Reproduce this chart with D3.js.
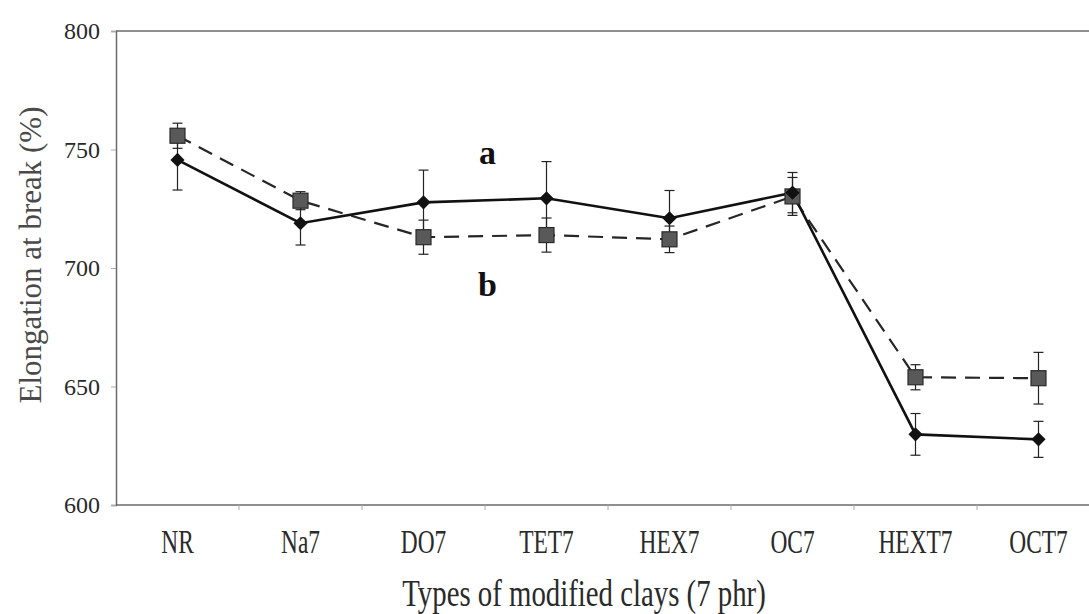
<!DOCTYPE html>
<html>
<head>
<meta charset="utf-8">
<script src="https://cdn.jsdelivr.net/npm/d3@7"></script>
<style>
  html, body { margin: 0; padding: 0; background: #fff; }
  svg { display: block; }
  text { font-family: "Liberation Serif", "Times New Roman", serif; }
</style>
</head>
<body>
<svg id="chart" width="1089" height="614"></svg>
<script>
// Elongation at break of NR composites with 7 phr of each modified clay
const categories = ["NR", "Na7", "DO7", "TET7", "HEX7", "OC7", "HEXT7", "OCT7"];

// series a: solid line, diamond markers
const seriesA = [745.6, 718.9, 727.7, 729.4, 721.0, 731.8, 629.8, 627.7];
const errorsA = [12.7, 9.2, 13.6, 15.5, 11.7, 8.5, 8.8, 7.6];

// series b: dashed line, square markers
const seriesB = [755.8, 728.4, 713.0, 713.9, 712.1, 730.2, 653.9, 653.5];
const errorsB = [5.3, 3.8, 7.2, 7.2, 5.6, 8.0, 5.3, 10.9];

const yTicks = [600, 650, 700, 750, 800];
const seriesLabels = [
  { text: "a", value: 744 },
  { text: "b", value: 688 }
];
const labelCategory = "DO7";

const svg = d3.select("#chart");
const plot = { left: 116, right: 1100, top: 31, bottom: 505 };

const x = d3.scaleBand().domain(categories).range([plot.left, plot.right]);
const y = d3.scaleLinear().domain([600, 800]).range([plot.bottom, plot.top]);
const cx = c => x(c) + x.bandwidth() / 2;

const axisColor = "#6a6a6a";
const textColor = "#2a2a2a";

// frame
svg.append("line")
  .attr("x1", plot.left).attr("x2", plot.right)
  .attr("y1", plot.top).attr("y2", plot.top)
  .attr("stroke", axisColor).attr("stroke-width", 1.5);

// y axis
const yAxis = svg.append("g")
  .attr("transform", `translate(${plot.left},0)`)
  .call(d3.axisLeft(y).tickValues(yTicks).tickSize(5).tickPadding(11).tickFormat(d3.format("d")));
yAxis.select(".domain").attr("stroke", axisColor).attr("stroke-width", 1.5);
yAxis.selectAll(".tick line").attr("stroke", "#aaa");
yAxis.selectAll(".tick text")
  .attr("fill", textColor).attr("font-size", 24)
  .attr("font-family", "Liberation Serif, serif");

// x axis: ticks at category boundaries
const xAxis = svg.append("g")
  .attr("transform", `translate(0,${plot.bottom})`);
xAxis.append("line")
  .attr("x1", plot.left).attr("x2", plot.right)
  .attr("stroke", axisColor).attr("stroke-width", 1.5);
xAxis.selectAll("line.tk").data(categories.slice(1))
  .join("line").attr("class", "tk")
  .attr("x1", d => x(d)).attr("x2", d => x(d))
  .attr("y1", 0).attr("y2", 5)
  .attr("stroke", "#aaa");
xAxis.selectAll("text.lbl").data(categories)
  .join("text").attr("class", "lbl")
  .attr("transform", d => `translate(${cx(d)},48) scale(0.9,1.28)`)
  .attr("text-anchor", "middle")
  .attr("fill", textColor).attr("font-size", 26)
  .text(d => d);

// axis titles
svg.append("text")
  .attr("transform", "translate(584,606) scale(0.9,1.2)")
  .attr("text-anchor", "middle")
  .attr("fill", textColor).attr("font-size", 32)
  .text("Types of modified clays (7 phr)");

svg.append("text")
  .attr("transform", "translate(41,255) rotate(-90)")
  .attr("text-anchor", "middle")
  .attr("fill", "#4a4a4a").attr("font-size", 31)
  .text("Elongation at break (%)");

const line = d3.line().x((d, i) => cx(categories[i])).y(d => y(d));

function errorBars(values, errs) {
  const g = svg.append("g").attr("stroke", "#222").attr("stroke-width", 1.2);
  values.forEach((v, i) => {
    const px = cx(categories[i]);
    const lo = y(v - errs[i]), hi = y(v + errs[i]);
    g.append("line").attr("x1", px).attr("x2", px).attr("y1", lo).attr("y2", hi);
    g.append("line").attr("x1", px - 5).attr("x2", px + 5).attr("y1", lo).attr("y2", lo);
    g.append("line").attr("x1", px - 5).attr("x2", px + 5).attr("y1", hi).attr("y2", hi);
  });
}

// series b (dashed, squares)
errorBars(seriesB, errorsB);
svg.append("path").datum(seriesB)
  .attr("d", line).attr("fill", "none")
  .attr("stroke", "#262626").attr("stroke-width", 2.2)
  .attr("stroke-dasharray", "15,9");

// series a (solid, diamonds)
errorBars(seriesA, errorsA);
svg.append("path").datum(seriesA)
  .attr("d", line).attr("fill", "none")
  .attr("stroke", "#111").attr("stroke-width", 2.6);

svg.append("g").selectAll("rect").data(seriesB)
  .join("rect")
  .attr("x", (d, i) => cx(categories[i]) - 7.5)
  .attr("y", d => y(d) - 7.5)
  .attr("width", 15).attr("height", 15)
  .attr("fill", "#595959").attr("stroke", "#2a2a2a").attr("stroke-width", 1.2);

svg.append("g").selectAll("path").data(seriesA)
  .join("path")
  .attr("transform", (d, i) => `translate(${cx(categories[i])},${y(d)}) rotate(45)`)
  .attr("d", d3.symbol().type(d3.symbolSquare).size(100))
  .attr("fill", "#111");

// series labels
svg.append("g").selectAll("text").data(seriesLabels)
  .join("text")
  .attr("x", cx(labelCategory) + 64)
  .attr("y", d => y(d.value))
  .attr("text-anchor", "middle")
  .attr("font-weight", "bold").attr("font-size", 34)
  .attr("fill", "#111")
  .text(d => d.text);
</script>
</body>
</html>
